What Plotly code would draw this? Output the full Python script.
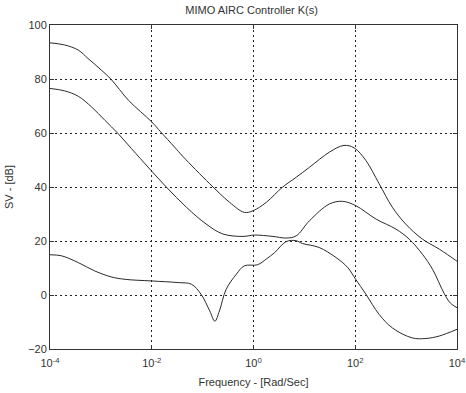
import plotly.graph_objects as go

# Singular values of the MIMO AIRC controller K(s), in dB versus frequency (rad/s)
freq_sv1 = [1.0e-4, 1.95e-4, 3.6e-4, 5.6e-4, 1.02e-3, 1.6e-3, 3.5e-3, 1.0e-2, 1.5e-2,
            2.8e-2, 4.1e-2, 0.138, 0.34, 0.66, 0.98, 1.78, 3.7, 6.9, 12.6, 31.0, 60.0,
            95.0, 162.0, 295.0, 537.0, 977.0, 2090.0, 4470.0, 8710.0, 1.0e4]
sv1_db = [93.4, 92.6, 90.7, 87.6, 83.3, 79.8, 72.1, 64.1, 60.4,
          54.8, 51.3, 41.2, 34.3, 30.6, 31.2, 34.3, 39.9, 43.6, 47.3, 52.9, 55.4,
          54.5, 49.8, 41.2, 32.5, 26.3, 20.7, 17.0, 13.3, 12.5]

freq_sv2 = [1.0e-4, 1.95e-4, 3.6e-4, 6.6e-4, 1.2e-3, 2.2e-3, 4.0e-3, 9.1e-3, 1.95e-2,
            4.8e-2, 0.117, 0.25, 0.62, 1.05, 2.4, 4.4, 6.9, 12.6, 31.0, 56.0, 102.0,
            257.0, 631.0, 1150.0, 2090.0, 3310.0, 5620.0, 7410.0, 1.0e4]
sv2_db = [76.5, 75.6, 73.6, 69.6, 64.7, 59.7, 54.2, 46.7, 39.9,
          32.5, 26.3, 22.6, 21.7, 22.2, 21.7, 21.1, 21.9, 27.5, 33.7, 34.7, 33.1,
          28.1, 24.4, 20.7, 15.1, 9.5, 0.5, -3.0, -4.7]

freq_sv3 = [1.0e-4, 1.7e-4, 3.6e-4, 7.6e-4, 1.6e-3, 3.0e-3, 1.0e-2, 3.3e-2, 6.0e-2,
            9.3e-2, 0.138, 0.174, 0.214, 0.29, 0.46, 0.66, 1.2, 1.78, 2.6, 4.4, 6.9,
            9.1, 19.5, 41.7, 71.0, 102.0, 162.0, 295.0, 537.0, 1320.0, 2450.0,
            4470.0, 1.0e4]
sv3_db = [14.9, 14.5, 12.0, 8.9, 6.7, 5.8, 5.2, 4.6, 4.0,
          0.3, -5.9, -9.7, -5.9, 2.1, 7.7, 10.8, 11.2, 13.3, 15.7, 19.8, 20.1,
          19.1, 17.6, 13.9, 10.2, 5.8, 0.3, -7.2, -12.2, -15.9, -16.1,
          -15.2, -12.7]

x_tick_vals = [1e-4, 1e-2, 1e0, 1e2, 1e4]
x_tick_text = ["10<sup>-4</sup>", "10<sup>-2</sup>", "10<sup>0</sup>",
               "10<sup>2</sup>", "10<sup>4</sup>"]
y_tick_vals = [-20, 0, 20, 40, 60, 80, 100]

line_style = dict(color="#2a2a2a", width=1)

fig = go.Figure()
for fx, fy in [(freq_sv1, sv1_db), (freq_sv2, sv2_db), (freq_sv3, sv3_db)]:
    fig.add_trace(go.Scatter(x=fx, y=fy, mode="lines", line=line_style,
                             line_shape="spline", hoverinfo="skip"))

axis_common = dict(
    showline=True, linecolor="#333", linewidth=1, mirror="ticks",
    ticks="inside", ticklen=4, tickcolor="#333",
    showgrid=True, gridcolor="#222", gridwidth=1, griddash="2px,3px",
    zeroline=False, tickfont=dict(size=11, color="#333"), automargin=False,
)

fig.update_xaxes(type="log", range=[-4, 4], tickvals=x_tick_vals,
                 ticktext=x_tick_text, ticklabelstandoff=4,
                 title=dict(text="Frequency - [Rad/Sec]", font=dict(size=11, color="#333"),
                            standoff=10),
                 **axis_common)
fig.update_yaxes(range=[-20, 100], tickvals=y_tick_vals,
                 title=dict(text="SV - [dB]", font=dict(size=11, color="#333"),
                            standoff=12),
                 **axis_common)

fig.update_layout(
    width=466, height=393,
    margin=dict(l=50, r=9, t=25, b=44),
    paper_bgcolor="white", plot_bgcolor="white",
    showlegend=False,
    font=dict(family="Liberation Sans, Arial, sans-serif", size=11, color="#333"),
    title=dict(text="MIMO AIRC Controller K(s)", x=0.54, xanchor="center",
               y=0.975, yanchor="middle", font=dict(size=11, color="#333")),
)

fig.write_html("out.html")
